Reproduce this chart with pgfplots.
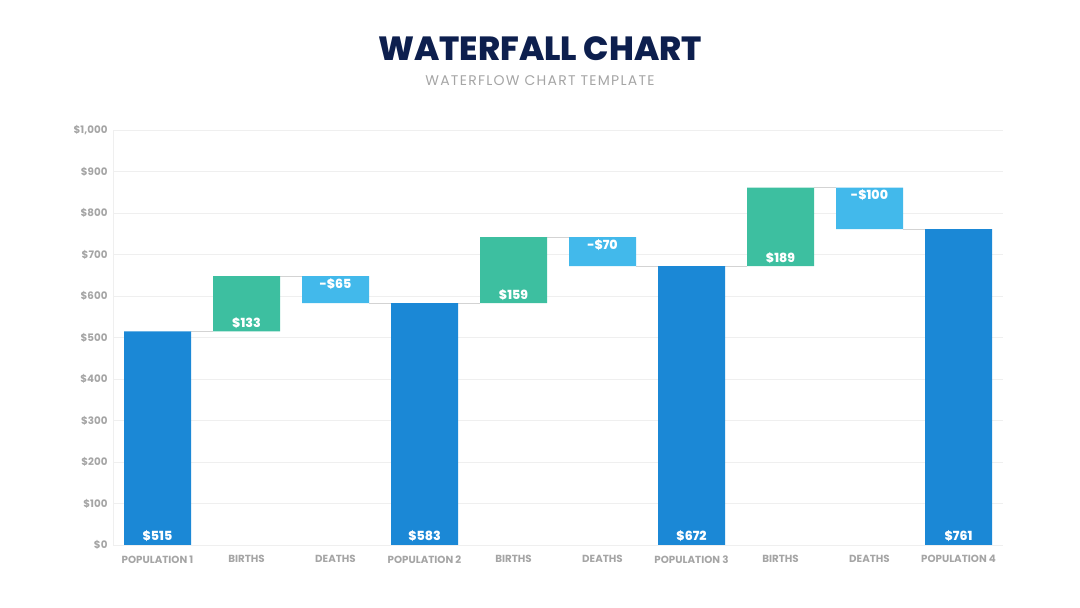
\documentclass[border=0pt]{standalone}
\usepackage{pgfplots}
\pgfplotsset{compat=1.18}
\usepackage{fontspec}
\setmainfont{Poppins}
\newfontfamily\titlefont{Poppins}[UprightFont={* ExtraBold}]

\definecolor{popblue}{HTML}{1B88D6}
\definecolor{birthgreen}{HTML}{3DBFA0}
\definecolor{deathblue}{HTML}{42B9EB}
\definecolor{titlenavy}{HTML}{0D1F4E}
\definecolor{ticklab}{HTML}{A5A5A5}
\definecolor{gridc}{HTML}{EFEFEF}
\definecolor{conn}{HTML}{D3D3D3}

\tikzset{bar label/.style={font=\fontsize{12.6}{15}\selectfont\titlefont, text=white, anchor=base, inner sep=0pt}}

\begin{document}
\begin{tikzpicture}[x=1pt,y=1pt]
\useasboundingbox (0,0) rectangle (1080,608);
\node[font=\fontsize{33.5}{38}\selectfont\titlefont, text=titlenavy] at (540,559) {WATERFALL CHART};
\node[font=\fontsize{14}{16}\selectfont\addfontfeatures{LetterSpace=9}, text=ticklab] at (540,527) {WATERFLOW CHART TEMPLATE};

\begin{axis}[
  at={(113pt,63pt)}, anchor=south west,
  scale only axis, width=890pt, height=415pt,
  xmin=-0.5, xmax=9.5, ymin=0, ymax=1000,
  ybar stacked, bar width=67pt,
  xtick={0,...,9},
  xticklabels={POPULATION 1, BIRTHS, DEATHS, POPULATION 2, BIRTHS, DEATHS, POPULATION 3, BIRTHS, DEATHS, POPULATION 4},
  ytick={0,100,...,1000},
  yticklabel={\$\pgfmathprintnumber{\tick}},
  yticklabel style={/pgf/number format/1000 sep={,}, /pgf/number format/assume math mode=true, xshift=-2pt},
  xticklabel style={yshift=-7pt},
  major tick length=0pt,
  ymajorgrids, grid style={gridc, line width=0.8pt},
  axis x line*=bottom, axis y line*=left,
  axis line style={gridc, line width=0.8pt},
  x axis line style={-}, y axis line style={-},
  tick label style={font=\fontsize{10.3}{12}\selectfont\bfseries, text=ticklab},
  clip=false,
]
% invisible base of each floating bar
\addplot[fill=none, draw=none]
  coordinates {(0,0) (1,515) (2,583) (3,0) (4,583) (5,672) (6,0) (7,672) (8,761) (9,0)};
% population totals
\addplot[fill=popblue, draw=none]
  coordinates {(0,515) (1,0) (2,0) (3,583) (4,0) (5,0) (6,672) (7,0) (8,0) (9,761)};
% births
\addplot[fill=birthgreen, draw=none]
  coordinates {(0,0) (1,133) (2,0) (3,0) (4,159) (5,0) (6,0) (7,189) (8,0) (9,0)};
% deaths
\addplot[fill=deathblue, draw=none]
  coordinates {(0,0) (1,0) (2,65) (3,0) (4,0) (5,70) (6,0) (7,0) (8,100) (9,0)};

% connectors between consecutive bars
\draw[conn, line width=0.8pt] (axis cs:0.375,515) -- (axis cs:0.625,515);
\draw[conn, line width=0.8pt] (axis cs:1.375,648) -- (axis cs:1.625,648);
\draw[conn, line width=0.8pt] (axis cs:2.375,583) -- (axis cs:2.625,583);
\draw[conn, line width=0.8pt] (axis cs:3.375,583) -- (axis cs:3.625,583);
\draw[conn, line width=0.8pt] (axis cs:4.375,742) -- (axis cs:4.625,742);
\draw[conn, line width=0.8pt] (axis cs:5.375,672) -- (axis cs:5.625,672);
\draw[conn, line width=0.8pt] (axis cs:6.375,672) -- (axis cs:6.625,672);
\draw[conn, line width=0.8pt] (axis cs:7.375,861) -- (axis cs:7.625,861);
\draw[conn, line width=0.8pt] (axis cs:8.375,761) -- (axis cs:8.625,761);

% anchor points for the value labels (foot of totals and births, top of deaths)
\coordinate (v0) at (axis cs:0,0);
\coordinate (v1) at (axis cs:1,515);
\coordinate (v2) at (axis cs:2,648);
\coordinate (v3) at (axis cs:3,0);
\coordinate (v4) at (axis cs:4,583);
\coordinate (v5) at (axis cs:5,742);
\coordinate (v6) at (axis cs:6,0);
\coordinate (v7) at (axis cs:7,672);
\coordinate (v8) at (axis cs:8,861);
\coordinate (v9) at (axis cs:9,0);
\end{axis}

% value labels, set above the bars
\node[bar label, yshift=4pt]     at (v0) {\$515};
\node[bar label, yshift=4pt]     at (v1) {\$133};
\node[bar label, yshift=-12pt]   at (v2) {-\$65};
\node[bar label, yshift=4pt]     at (v3) {\$583};
\node[bar label, yshift=4pt]     at (v4) {\$159};
\node[bar label, yshift=-12pt]   at (v5) {-\$70};
\node[bar label, yshift=4pt]     at (v6) {\$672};
\node[bar label, yshift=4pt]     at (v7) {\$189};
\node[bar label, yshift=-12pt]   at (v8) {-\$100};
\node[bar label, yshift=4pt]     at (v9) {\$761};
\end{tikzpicture}
\end{document}
